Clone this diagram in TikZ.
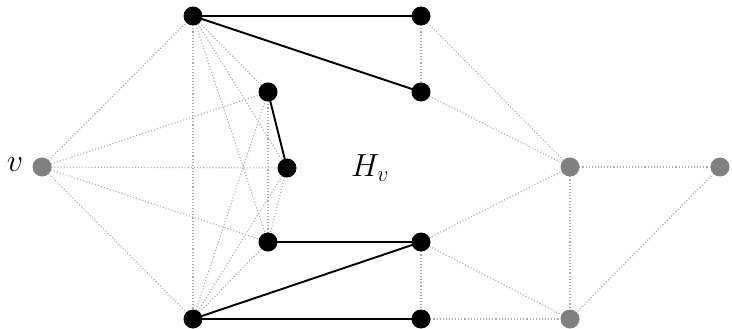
\RequirePackage{fix-cm}
\documentclass[tikz,border=0pt]{standalone}
\usetikzlibrary{backgrounds}
\begin{document}
\begin{tikzpicture}[x=1pt,y=-1pt,
  bv/.style={circle,fill=black,inner sep=0pt,minimum size=19pt},
  gv/.style={circle,fill=gray,inner sep=0pt,minimum size=19pt},
  sol/.style={line width=1.9pt,black},
  dot/.style={dash pattern=on 1.1pt off 2pt,gray!65,line width=1.1pt},
  lab/.style={font=\fontsize{32}{36}\selectfont}]
\useasboundingbox (0,0) rectangle (732,329);
\node[gv] (v) at (42,167) {};
\node[bv] (A) at (193,16) {};
\node[bv] (B) at (421,16) {};
\node[bv] (C) at (421,92) {};
\node[bv] (D) at (268,92) {};
\node[bv] (E) at (287,168) {};
\node[bv] (F) at (268,242) {};
\node[bv] (G) at (421,242) {};
\node[bv] (H) at (193,319) {};
\node[bv] (I) at (421,319) {};
\node[gv] (J) at (570,167) {};
\node[gv] (K) at (720,167) {};
\node[gv] (L) at (570,319) {};
\node[lab] (lv) at (15,165) {$v$};
\node[lab] (lH) at (370,168) {$H_v$};
\begin{scope}[on background layer]
\foreach \a/\b in {v/A,v/D,v/E,v/F,v/H,A/H,A/D,A/E,A/F,H/D,H/E,H/F,D/F,E/F,
  B/C,B/J,C/J,G/J,G/I,G/L,I/L,J/L,J/K,K/L}
  \draw[dot] (\a.center) -- (\b.center);
\foreach \a/\b in {A/B,A/C,D/E,F/G,H/G,H/I}
  \draw[sol] (\a.center) -- (\b.center);
\end{scope}
\end{tikzpicture}
\end{document}
